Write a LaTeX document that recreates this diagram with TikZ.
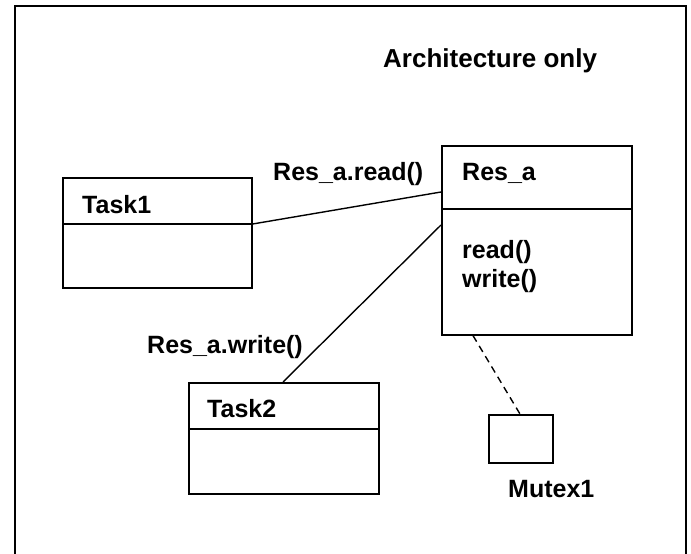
\documentclass[tikz,border=0pt]{standalone}
\usepackage{fontspec}
\setmainfont{Liberation Sans}
\usetikzlibrary{calc}

\begin{document}
\begin{tikzpicture}[x=1pt,y=-1pt,
    box/.style={rectangle,draw,line width=1.6pt,anchor=north west,inner sep=0pt},
    sep/.style={line width=1.6pt},
    txt/.style={anchor=base west,inner sep=0pt,font=\fontsize{25}{28}\selectfont\bfseries},
    link/.style={line width=1.4pt},
    dlink/.style={line width=1.4pt,dash pattern=on 7pt off 5pt},
]
\useasboundingbox (0,0) rectangle (691,554);
% outer frame (open at the bottom)
\draw[line width=2pt] (15,554) -- (15,6) -- (686,6) -- (686,554);

\node[txt,font=\fontsize{26}{30}\selectfont\bfseries] (title) at (383,67) {Architecture only};

% Task1
\node[box,minimum width=189,minimum height=110] (task1) at (62,177) {};
\draw[sep] ($(task1.north west)+(0,47)$) -- ($(task1.north east)+(0,47)$) coordinate (t1r);
\node[txt] (task1name) at (82,213) {Task1};

% Res_a
\node[box,minimum width=190,minimum height=189] (resa) at (441,145) {};
\draw[sep] ($(resa.north west)+(0,64)$) -- ($(resa.north east)+(0,64)$);
\node[txt] (resaname) at (462,180) {Res\_a};
\node[txt] (readop) at (462,258) {read()};
\node[txt] (writeop) at (462,287) {write()};

% Task2
\node[box,minimum width=190,minimum height=111] (task2) at (188,382) {};
\draw[sep] ($(task2.north west)+(0,47)$) -- ($(task2.north east)+(0,47)$);
\node[txt] (task2name) at (207,417) {Task2};

% Mutex1
\node[box,minimum width=64,minimum height=48] (mutex) at (488,414) {};
\node[txt] (mutexname) at (508,497) {Mutex1};

% calls
\draw[link] (t1r) -- ($(resa.north west)+(0,47)$);
\node[txt] (readlbl) at (273,180) {Res\_a.read()};
\draw[link] ($(task2.north west)+(95,0)$) -- ($(resa.north west)+(0,80)$);
\node[txt] (writelbl) at (147,353) {Res\_a.write()};
\draw[dlink] ($(resa.south west)+(32,0)$) -- ($(mutex.north west)+(32,0)$);
\end{tikzpicture}
\end{document}
